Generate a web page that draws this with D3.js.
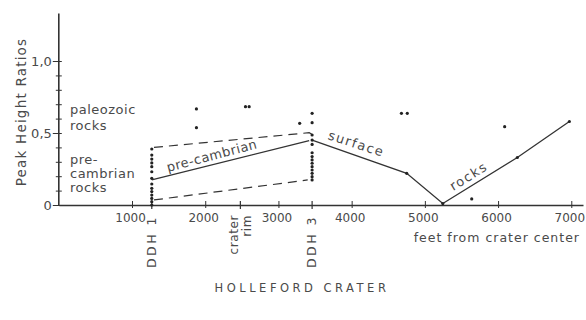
<!DOCTYPE html>
<html>
<head>
<meta charset="utf-8">
<script src="https://cdn.jsdelivr.net/npm/d3@7"></script>
<style>
    body { margin: 0; background: #fff; }
    text { font-family: "DejaVu Sans", sans-serif; fill: #4a4a4a; }
</style>
</head>
<body>
<script>
// Peak height ratios vs distance from crater centre (Holleford crater)

var xTicks = [1000, 2000, 3000, 4000, 5000, 6000, 7000];
var yTicks = [0, 0.1, 0.2, 0.3, 0.4, 0.5, 0.6, 0.7, 0.8, 0.9, 1.0];
var yMajor = {0: "0", 0.5: "0,5", 1: "1,0"};

// drill holes and crater rim along the x axis
var markerNames = ["DDH 1", "crater rim", "DDH 3"];
var markerX = [1270, 2480, 3460];

// sample columns in the drill holes
var ddh1Values = [0.389, 0.347, 0.319, 0.292, 0.266, 0.231, 0.185, 0.146,
    0.116, 0.093, 0.069, 0.046, 0.023, 0.0];
var ddh3Values = [0.637, 0.572, 0.486, 0.451, 0.421, 0.363, 0.336, 0.313,
    0.29, 0.266, 0.243, 0.22, 0.197, 0.174];

// paleozoic surface samples
var paleoX = [1880, 1880, 2550, 2600, 3290, 4680, 4760, 6090, 5640];
var paleoY = [0.667, 0.537, 0.683, 0.683, 0.567, 0.637, 0.637, 0.544, 0.042];

// surface rocks line
var surfX = [3460, 4752, 5245, 6263, 6974];
var surfY = [0.45, 0.22, 0.01, 0.33, 0.58];

// pre-cambrian trend and its envelope
var preX = [1270, 3420];
var preY = [0.174, 0.447];
var upperX = [1300, 3420, 3460];
var upperY = [0.40, 0.502, 0.49];
var lowerX = [1300, 3400];
var lowerY = [0.035, 0.174];

var svg = d3.select("body").append("svg")
    .attr("width", 586)
    .attr("height", 320);

var x = d3.scaleLinear().domain([0, 7160]).range([58.8, 583]);
var y = d3.scaleLinear().domain([0, 1.33]).range([205, 13.5]);

var ink = "#333";

// x axis
var xAxis = d3.axisBottom(x).tickValues(xTicks).tickSize(3)
    .tickSizeOuter(0).tickPadding(5).tickFormat(d3.format("d"));
var gx = svg.append("g")
    .attr("transform", "translate(0," + y(0) + ")")
    .call(xAxis);
gx.select(".domain").attr("stroke", ink).attr("stroke-width", 1.6);
gx.selectAll(".tick line").attr("y1", -4).attr("stroke", ink);
gx.selectAll(".tick text")
    .attr("font-size", "12px")
    .attr("fill", "#4a4a4a")
    .attr("font-family", "DejaVu Sans, sans-serif")
    .attr("dx", "-2");

// small ticks for the markers
markerX.forEach(function (v) {
    svg.append("line")
        .attr("x1", x(v)).attr("x2", x(v))
        .attr("y1", y(0) - 4).attr("y2", y(0) + 4)
        .attr("stroke", ink).attr("stroke-width", 1.2);
});

// y axis
var yAxis = d3.axisLeft(y).tickValues(yTicks).tickSize(3)
    .tickSizeOuter(0).tickFormat(function (d) {
        return yMajor[d] !== undefined ? yMajor[d] : "";
    });
var gy = svg.append("g")
    .attr("transform", "translate(" + x(0) + ",0)")
    .call(yAxis);
gy.select(".domain").remove();
gy.selectAll(".tick line")
    .attr("x1", function (d) { return yMajor[d] !== undefined ? -6 : -3; })
    .attr("x2", 3)
    .attr("stroke", ink);
gy.selectAll(".tick text")
    .attr("x", -7)
    .attr("font-size", "13px")
    .attr("fill", "#4a4a4a")
    .attr("font-family", "DejaVu Sans, sans-serif");
svg.append("line")
    .attr("x1", x(0)).attr("x2", x(0))
    .attr("y1", y(0)).attr("y2", 13.5)
    .attr("stroke", ink).attr("stroke-width", 1.6);

// y caption
svg.append("text")
    .attr("transform", "translate(21,112) rotate(-90)")
    .attr("text-anchor", "middle")
    .attr("dy", "0.35em")
    .attr("font-size", "13.5px")
    .attr("letter-spacing", "1.2px")
    .text("Peak Height Ratios");

// marker labels, rotated
function vlabel(s, vx, dx, size, ls) {
    svg.append("text")
        .attr("transform", "translate(" + (x(vx) + dx) + "," + (y(0) + 10) +
            ") rotate(-90)")
        .attr("text-anchor", "end")
        .attr("dy", "0.35em")
        .attr("font-size", size)
        .attr("letter-spacing", ls)
        .text(s);
}
vlabel(markerNames[0], markerX[0], 0, "12.5px", "2.5px");
vlabel("crater", markerX[1], -7, "12px", "0.6px");
vlabel("rim", markerX[1], 6, "12px", "0.6px");
vlabel(markerNames[2], markerX[2], 0, "12.5px", "2.5px");

svg.append("text")
    .attr("x", 580).attr("y", 242)
    .attr("text-anchor", "end")
    .attr("font-size", "12.5px")
    .attr("letter-spacing", "1px")
    .text("feet from crater center");

svg.append("text")
    .attr("x", 302).attr("y", 292)
    .attr("text-anchor", "middle")
    .attr("font-size", "11.5px")
    .attr("letter-spacing", "3.5px")
    .text("HOLLEFORD CRATER");

// rock labels on the left
var leftLabels = [["paleozoic", 114], ["rocks", 130], ["pre-", 164],
    ["cambrian", 178], ["rocks", 192]];
leftLabels.forEach(function (l) {
    svg.append("text")
        .attr("x", 70).attr("y", l[1])
        .attr("font-size", "13px")
        .attr("letter-spacing", "0.5px")
        .text(l[0]);
});

// lines
function pts(xs, ys) {
    return xs.map(function (v, i) { return [x(v), y(ys[i])]; });
}
var line = d3.line();
svg.append("path").attr("d", line(pts(preX, preY)))
    .attr("fill", "none").attr("stroke", ink).attr("stroke-width", 1.3);
svg.append("path").attr("d", line(pts(upperX, upperY)))
    .attr("fill", "none").attr("stroke", ink).attr("stroke-width", 1.2)
    .attr("stroke-dasharray", "9,6");
svg.append("path").attr("d", line(pts(lowerX, lowerY)))
    .attr("fill", "none").attr("stroke", ink).attr("stroke-width", 1.2)
    .attr("stroke-dasharray", "9,6");
svg.append("path").attr("d", line(pts(surfX, surfY)))
    .attr("fill", "none").attr("stroke", ink).attr("stroke-width", 1.3);

// dots
var dots = [];
ddh1Values.forEach(function (v) { dots.push([markerX[0], v]); });
ddh3Values.forEach(function (v) { dots.push([markerX[2], v]); });
paleoX.forEach(function (v, i) { dots.push([v, paleoY[i]]); });
surfX.forEach(function (v, i) { if (i > 0) dots.push([v, surfY[i]]); });

svg.selectAll("circle.dot")
    .data(dots)
    .enter()
    .append("circle")
    .attr("class", "dot")
    .attr("cx", function (d) { return x(d[0]); })
    .attr("cy", function (d) { return y(d[1]); })
    .attr("r", 1.6)
    .attr("fill", "#222");

// labels along the lines
function slanted(s, cx, cy, angle, ls) {
    svg.append("text")
        .attr("transform", "translate(" + cx + "," + cy + ") rotate(" + angle + ")")
        .attr("text-anchor", "middle")
        .attr("font-size", "13px")
        .attr("letter-spacing", ls)
        .text(s);
}
slanted("pre-cambrian", 213, 160, -15, "0.5px");
slanted("surface", 355, 148, 18, "1.5px");
slanted("rocks", 471, 180, -32, "1.5px");
</script>
</body>
</html>
